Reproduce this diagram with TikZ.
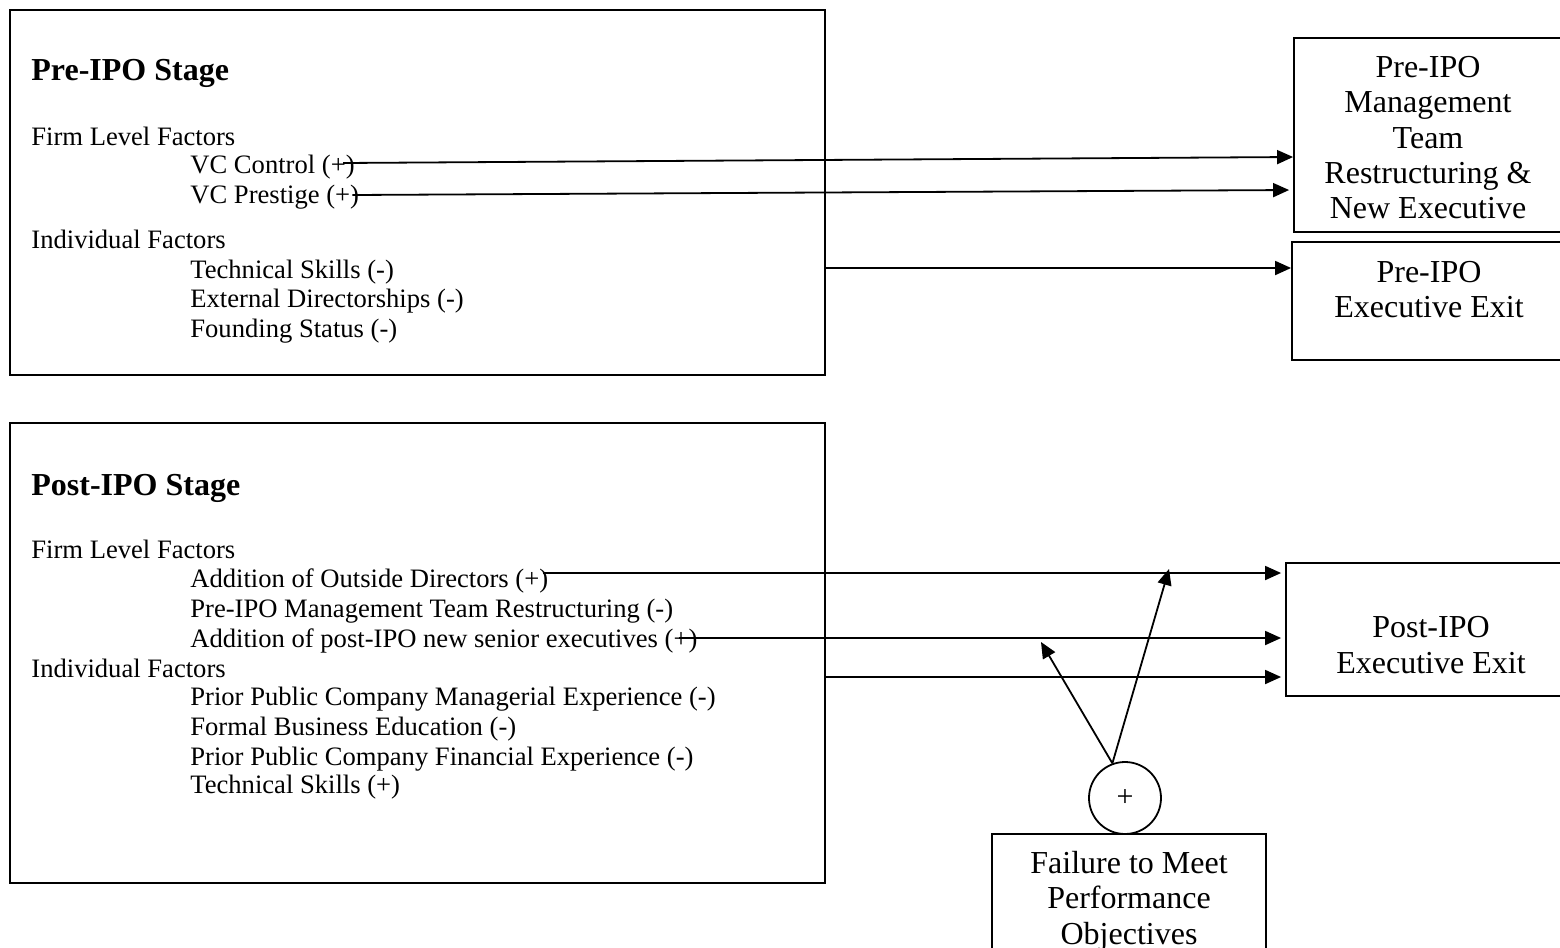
\documentclass[tikz,border=0pt]{standalone}
\usepackage{fontspec}
\setmainfont{Liberation Serif}
\usetikzlibrary{arrows.meta,fit}
\begin{document}
\begin{tikzpicture}[x=0.5pt,y=-0.5pt,
  frame/.style={draw,line width=0.9pt,inner sep=0pt,rectangle},
  body/.style={inner sep=0pt,anchor=base west,font=\fontsize{13.3}{15}\selectfont},
  head/.style={inner sep=0pt,anchor=base west,font=\fontsize{16}{18}\selectfont\bfseries},
  boxtext/.style={inner sep=0pt,anchor=base,font=\fontsize{16}{18}\selectfont},
  arr/.style={line width=0.9pt,-{Triangle[length=8pt,width=7pt]}}]
\clip (0,0) rectangle (1560,948);
% boxes
\node[frame,fit={(10,10) (825,375)}] (pre) {};
\node[frame,fit={(10,423) (825,883)}] (post) {};
\node[frame,fit={(1294,38) (1562,232)}] (mgmt) {};
\node[frame,fit={(1292,242) (1566,360)}] (exit1) {};
\node[frame,fit={(1286,563) (1576,696)}] (exit2) {};
\node[frame,fit={(992,834) (1266,980)}] (fail) {};
\node[draw,circle,line width=0.9pt,minimum size=36pt,inner sep=0pt,font=\fontsize{15}{17}\selectfont] (plus) at (1125,798) {+};
% pre-IPO texts
\node[head] (preh) at (31,80) {Pre-IPO Stage};
\node[body] (pref) at (31,145) {Firm Level Factors};
\node[body] (vcc) at (190,173) {VC Control (+)};
\node[body] (vcp) at (190,203) {VC Prestige (+)};
\node[body] (prei) at (31,248) {Individual Factors};
\node[body] (pts) at (190,278) {Technical Skills (-)};
\node[body] (ped) at (190,307) {External Directorships (-)};
\node[body] (pfs) at (190,337) {Founding Status (-)};
% post-IPO texts
\node[head] (posth) at (31,495) {Post-IPO Stage};
\node[body] (postf) at (31,558) {Firm Level Factors};
\node[body] (aod) at (190,587) {Addition of Outside Directors (+)};
\node[body] (pmt) at (190,617) {Pre-IPO Management Team Restructuring (-)};
\node[body] (apn) at (190,647) {Addition of post-IPO new senior executives (+)};
\node[body] (posti) at (31,677) {Individual Factors};
\node[body] (ppm) at (190,705) {Prior Public Company Managerial Experience (-)};
\node[body] (fbe) at (190,735) {Formal Business Education (-)};
\node[body] (ppf) at (190,765) {Prior Public Company Financial Experience (-)};
\node[body] (tsp) at (190,793) {Technical Skills (+)};
% right box texts
\node[boxtext] (m1) at (1428,77) {Pre-IPO};
\node[boxtext] (m2) at (1428,112) {Management};
\node[boxtext] (m3) at (1428,148) {Team};
\node[boxtext] (m4) at (1428,183) {Restructuring \&};
\node[boxtext] (m5) at (1428,218) {New Executive};
\node[boxtext] (e1) at (1429,282) {Pre-IPO};
\node[boxtext] (e2) at (1429,317) {Executive Exit};
\node[boxtext] (q1) at (1431,637) {Post-IPO};
\node[boxtext] (q2) at (1431,673) {Executive Exit};
\node[boxtext] (f1) at (1129,873) {Failure to Meet};
\node[boxtext] (f2) at (1129,908) {Performance};
\node[boxtext] (f3) at (1129,944) {Objectives};
% connector start points
\coordinate (s1) at ([xshift=-6pt]vcc.east);
\coordinate (s2) at ([xshift=-3.5pt]vcp.east);
\coordinate (s3) at ([xshift=-3pt]aod.east);
\coordinate (s4) at ([xshift=-9.5pt]apn.east);
\coordinate (t1) at (1041,642);
\coordinate (t2) at (1169,569);
% connectors
\draw[arr] (s1 |- 0,163) -- (mgmt.west |- 0,157);
\draw[arr,shorten >=2pt] (s2 |- 0,195) -- (mgmt.west |- 0,190);
\draw[arr] (pre.east |- 0,268) -- (exit1.west |- 0,268);
\draw[arr,shorten >=2pt] (s3 |- 0,573) -- (exit2.west |- 0,573);
\draw[arr,shorten >=2pt] (s4 |- 0,638) -- (exit2.west |- 0,638);
\draw[arr,shorten >=2pt] (post.east |- 0,677) -- (exit2.west |- 0,677);
\draw[arr] (plus.110) -- (t1);
\draw[arr] (plus.110) -- (t2);
\end{tikzpicture}
\end{document}
